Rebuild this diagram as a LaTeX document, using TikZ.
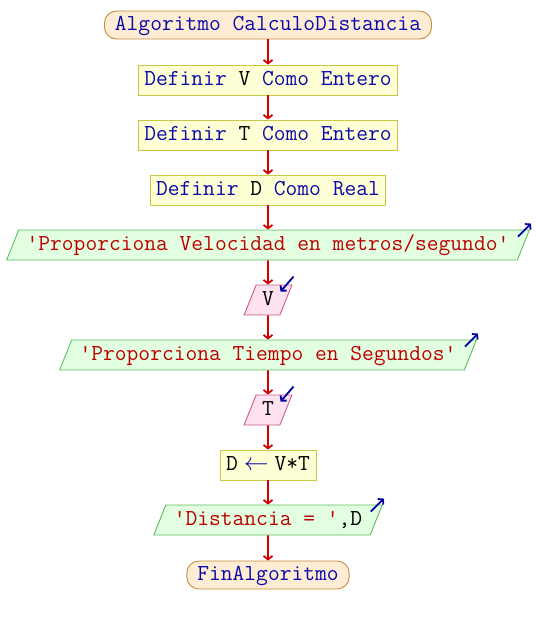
\documentclass[tikz,border=0pt]{standalone}
\usepackage{fontspec}
\usepackage{xcolor}
\usepackage{tikz}
\usetikzlibrary{arrows,arrows.meta}
\usetikzlibrary{shapes}
\usetikzlibrary{calc}
\definecolor{kwc}{RGB}{10,10,170}
\definecolor{strc}{RGB}{190,0,0}
\definecolor{termf}{RGB}{255,236,212}
\definecolor{termd}{RGB}{200,140,60}
\definecolor{procf}{RGB}{255,255,214}
\definecolor{procd}{RGB}{200,200,70}
\definecolor{outf}{RGB}{226,255,226}
\definecolor{outd}{RGB}{90,190,90}
\definecolor{inf}{RGB}{255,226,240}
\definecolor{ind}{RGB}{200,90,140}
\definecolor{flowc}{RGB}{210,0,0}
\definecolor{ioc}{RGB}{0,0,160}
\newcommand{\kwd}[1]{\textcolor{kwc}{#1}}
\newcommand{\strg}[1]{\textcolor{strc}{#1}}
\tikzstyle{term} = [rectangle, draw=termd, fill=termf, line width=0.9pt, rounded corners=12pt, inner xsep=10.5pt, inner ysep=4pt, text height=15pt, text depth=5pt]
\tikzstyle{proc} = [rectangle, draw=procd, fill=procf, line width=0.9pt, inner xsep=6pt, inner ysep=5pt, text height=15pt, text depth=5pt]
\tikzstyle{outp} = [trapezium, trapezium left angle=68.2, trapezium right angle=111.8, draw=outd, fill=outf, line width=0.9pt, inner xsep=8pt, inner ysep=5pt, text height=15pt, text depth=5pt]
\tikzstyle{inp} = [trapezium, trapezium left angle=68.2, trapezium right angle=111.8, draw=ind, fill=inf, line width=0.9pt, inner xsep=6pt, inner ysep=5pt, text height=15pt, text depth=5pt]
\tikzstyle{fl} = [draw=flowc, line width=1.8pt, -{Straight Barb[length=3.5pt,width=9pt]}]
\tikzstyle{ioarr} = [draw=ioc, line width=1.8pt, -{Straight Barb[length=3.5pt,width=8pt]}]

\begin{document}
\begin{tikzpicture}[x=1pt,y=-1pt,every node/.style={font=\ttfamily\fontsize{22.86}{26}\selectfont}]
	\useasboundingbox (0,0) rectangle (536,625);
	\node[term] (a1) at (268,25) {\kwd{Algoritmo CalculoDistancia}};
	\node[proc] (a2) at (268,80) {\kwd{Definir} V \kwd{Como Entero}};
	\node[proc] (a3) at (268,135) {\kwd{Definir} T \kwd{Como Entero}};
	\node[proc] (a4) at (268,190) {\kwd{Definir} D \kwd{Como Real}};
	\node[outp] (a5) at (268,245) {\strg{'Proporciona Velocidad en metros/segundo'}};
	\node[inp] (a6) at (268,300) {V};
	\node[outp] (a7) at (268,355) {\strg{'Proporciona Tiempo en Segundos'}};
	\node[inp] (a8) at (268,410) {T};
	\node[proc] (a9) at (268,465) {D\hspace{6pt}\kwd{$\leftarrow$}\hspace{6pt}V*T};
	\node[outp] (a10) at (268,520) {\strg{'Distancia = '},D};
	\node[term] (a11) at (268,575) {\kwd{FinAlgoritmo}};
	\foreach \from/\to in {a1/a2,a2/a3,a3/a4,a4/a5,a5/a6,a6/a7,a7/a8,a8/a9,a9/a10,a10/a11}
	\draw[fl] (\from) -- (\to);
	% salidas / entradas
	\foreach \o in {a5,a7,a10}
	\draw[ioarr] ($(\o.top right corner)+(-12,7)$) -- ++(13,-13);
	\foreach \i in {a6,a8}
	\draw[ioarr] ($(\i.top right corner)+(1,-8)$) -- ++(-13,15);
\end{tikzpicture}
\end{document}
